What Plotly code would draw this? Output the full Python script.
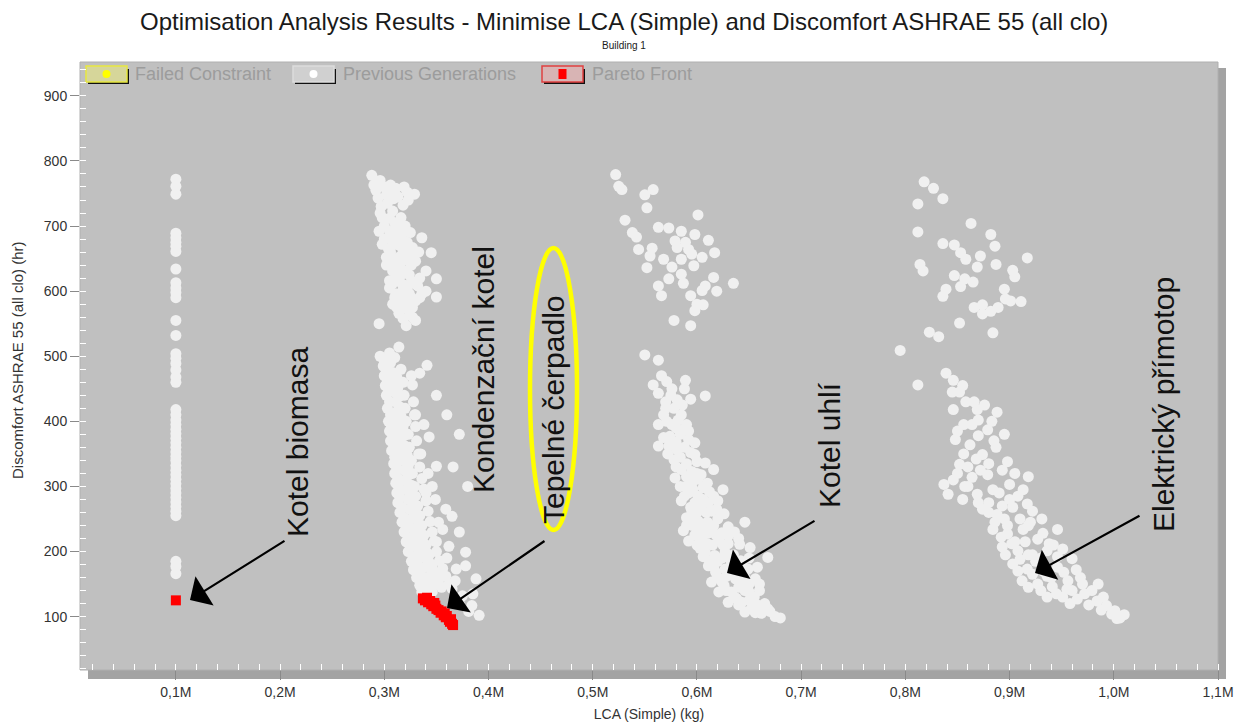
import plotly.graph_objects as go

# ---------------- DATA ----------------
x_ticks = [100000, 200000, 300000, 400000, 500000, 600000, 700000, 800000, 900000, 1000000, 1100000]
x_tick_labels = ["0,1M", "0,2M", "0,3M", "0,4M", "0,5M", "0,6M", "0,7M", "0,8M", "0,9M", "1,0M", "1,1M"]
y_ticks = [100, 200, 300, 400, 500, 600, 700, 800, 900]

# Kotel biomasa column (previous generations)
bio_x = [100000] * 48
bio_y = [772, 761, 749, 689, 682, 675, 669, 661, 634, 613, 605, 598, 590, 555, 532, 504,
         497, 489, 479, 468, 460, 418, 410, 402, 395, 388, 381, 374, 367, 360, 353, 346,
         340, 332, 325, 318, 311, 304, 297, 290, 283, 276, 269, 262, 255, 185, 177, 166]

# Kondenzacni kotel / Tepelne cerpadlo cluster (thousand kg, hr)
kond_pts = [
    (288, 778), (290, 763), (306, 763), (311, 758), (319, 760), (329, 749), (294, 743), (302, 748),
    (318, 732), (308, 723), (298, 713), (316, 713), (295, 692), (305, 692), (336, 682), (298, 672),
    (311, 672), (327, 667), (345, 659), (302, 652), (314, 652), (330, 646), (308, 631), (321, 631),
    (340, 631), (350, 619), (305, 616), (317, 611), (330, 611), (311, 596), (324, 596), (336, 596),
    (350, 591), (314, 581), (327, 575), (314, 566), (327, 560), (295, 550), (321, 547), (330, 555),
    (300, 700), (310, 705), (320, 700), (325, 690), (312, 685), (318, 678), (306, 660), (322, 660),
    (315, 640), (326, 640), (334, 620), (312, 620), (322, 605), (318, 590), (330, 585), (340, 600),
    (305, 605), (308, 640), (333, 660), (300, 680), (313, 745), (323, 740), (297, 730), (315, 570),
    (320, 585),
    (303, 735), (309, 742), (296, 720), (305, 712), (312, 700), (318, 690), (306, 680), (315, 670),
    (322, 675), (304, 665), (318, 660), (310, 648), (320, 648), (328, 655), (302, 640), (312, 632),
    (324, 625), (316, 625), (308, 612), (318, 602), (326, 615), (332, 608), (310, 590), (320, 575),
    (326, 590), (334, 590), (312, 575), (318, 558), (308, 580), (324, 570), (300, 760), (296, 770),
    (307, 750), (322, 752), (292, 755),
    (296, 500), (299, 485), (300, 470), (301, 455), (302, 440), (303, 420), (304, 400), (305, 385),
    (306, 370), (307, 355), (309, 335), (310, 320), (311, 305), (312, 290), (313, 275), (315, 260),
    (317, 245), (319, 230), (321, 215), (323, 200), (326, 185), (328, 172), (331, 160), (334, 148),
    (336, 138), (339, 130),
    (300, 493), (302, 478), (303, 462), (304, 448), (305, 430), (306, 410), (307, 392), (308, 378),
    (309, 362), (310, 345), (312, 328), (313, 312), (314, 298), (315, 283), (317, 268), (319, 252),
    (321, 238), (323, 222), (325, 208), (328, 192), (331, 178), (334, 166), (337, 154), (340, 144),
    (343, 134),
    (305, 505), (306, 490), (308, 475), (309, 460), (310, 445), (311, 430), (312, 415), (313, 400),
    (314, 385), (315, 370), (316, 355), (318, 340), (319, 325), (320, 310), (321, 295), (323, 280),
    (324, 265), (326, 250), (328, 235), (330, 220), (332, 205), (334, 190), (337, 175), (340, 160),
    (343, 148), (346, 138),
    (310, 498), (312, 468), (313, 452), (314, 438), (315, 422), (316, 408), (318, 392), (319, 378),
    (320, 362), (322, 348), (323, 332), (324, 318), (326, 302), (327, 288), (329, 272), (331, 258),
    (333, 242), (335, 228), (337, 214), (340, 200), (342, 186), (345, 172), (348, 160), (351, 150),
    (314, 514), (316, 480), (318, 460), (319, 440), (320, 420), (321, 400), (323, 380), (324, 360),
    (326, 340), (327, 320), (329, 300), (330, 285), (332, 270), (334, 255), (336, 240), (338, 225),
    (340, 210), (343, 195), (346, 180), (349, 168), (352, 155), (355, 145),
    (326, 470), (328, 430), (329, 410), (330, 392), (331, 370), (333, 350), (334, 330), (336, 312),
    (338, 296), (340, 278), (342, 262), (344, 246), (346, 230), (348, 216), (350, 200), (353, 186),
    (356, 174), (359, 162), (362, 150),
    (341, 486), (334, 474), (327, 456), (350, 440), (343, 376), (350, 331), (349, 280), (359, 265),
    (365, 254), (356, 234), (372, 230), (362, 208), (378, 199), (378, 178), (369, 173), (388, 158),
    (365, 143), (375, 132), (384, 117), (391, 102), (381, 108), (330, 410), (338, 395), (335, 350),
    (342, 320), (340, 290), (346, 300), (352, 245), (350, 215), (360, 190), (356, 165), (368, 155),
    (372, 120), (385, 135), (360, 410), (372, 380), (366, 330), (380, 300),
]
kond_x = [p[0] * 1000 for p in kond_pts]
kond_y = [p[1] for p in kond_pts]

# Kotel uhli cluster
uhli_pts = [
    (522, 779), (525, 761), (528, 756), (558, 756), (550, 748), (552, 728), (531, 709), (601, 717),
    (563, 698), (573, 697), (585, 692), (598, 687), (538, 690), (542, 683), (611, 678), (579, 677),
    (589, 675), (544, 664), (557, 666), (581, 667), (592, 664), (617, 659), (555, 654), (595, 657),
    (605, 652), (568, 649), (585, 649), (552, 636), (576, 637), (597, 639), (585, 626), (573, 619),
    (616, 621), (635, 612), (563, 608), (587, 612), (608, 608), (605, 601), (619, 600), (566, 593),
    (594, 593), (600, 580), (606, 579), (598, 570), (578, 555), (594, 547),
    (550, 502), (563, 494), (558, 456), (571, 461), (589, 463), (563, 443), (581, 433), (594, 434),
    (608, 439), (563, 395), (571, 400), (582, 402), (587, 387), (574, 377), (592, 372), (598, 367),
    (563, 362), (573, 362), (581, 356), (598, 349), (578, 341), (608, 336), (585, 326), (595, 323),
    (616, 326), (579, 313), (601, 311), (589, 300), (606, 298), (625, 295), (592, 290), (601, 285),
    (616, 285), (585, 278), (598, 275), (611, 275), (619, 265), (609, 260), (590, 252), (646, 245),
    (601, 247), (587, 232), (601, 232), (614, 234), (624, 229), (592, 216), (605, 219), (621, 219),
    (630, 224), (641, 211), (651, 206), (608, 199), (617, 194), (627, 199), (668, 191), (642, 186),
    (611, 178), (627, 173), (649, 173), (614, 153), (624, 153), (637, 158), (656, 158), (621, 138),
    (633, 138), (646, 140), (630, 122), (643, 122), (652, 112), (662, 105), (675, 100), (646, 107),
    (600, 260), (596, 240), (610, 245), (620, 250), (615, 210), (625, 210), (635, 195), (620, 185),
    (633, 180), (640, 165), (628, 162), (618, 168), (650, 150), (640, 145), (655, 130), (665, 120),
    (638, 128), (660, 140), (603, 205), (595, 263), (580, 390), (590, 395), (585, 410), (600, 320),
    (610, 305), (595, 305), (570, 420), (575, 440), (588, 450),
    (566, 470), (576, 450), (570, 430), (578, 420), (586, 425), (568, 410), (576, 395), (584, 380),
    (592, 385), (568, 375), (580, 368), (588, 360), (594, 352), (572, 350), (584, 345), (590, 335),
    (600, 338), (580, 330), (590, 315), (596, 312), (604, 318), (584, 300), (596, 296), (612, 292),
    (588, 285), (606, 280), (620, 278), (594, 268), (604, 266), (614, 262), (626, 258), (596, 250),
    (606, 238), (616, 240), (630, 238), (590, 240), (598, 225), (610, 228), (618, 226), (636, 230),
    (600, 210), (610, 212), (630, 212), (640, 220), (606, 192), (624, 190), (632, 188), (650, 190),
    (612, 186), (616, 176), (636, 172), (644, 178), (658, 176), (620, 160), (632, 165), (646, 160),
    (626, 148), (644, 150), (660, 150), (628, 140), (650, 138), (636, 130), (650, 125), (658, 118),
    (668, 112), (640, 118), (656, 106), (670, 108), (680, 98),
]
uhli_x = [p[0] * 1000 for p in uhli_pts]
uhli_y = [p[1] for p in uhli_pts]

# Elektricky primotop cluster
elek_pts = [
    (818, 768), (827, 758), (836, 742), (812, 734), (863, 704), (812, 691), (882, 687), (836, 673),
    (847, 671), (886, 669), (917, 651), (853, 659), (858, 649), (872, 654), (869, 637), (887, 641),
    (814, 641), (817, 631), (903, 632), (905, 622), (847, 624), (857, 619), (865, 614), (853, 607),
    (895, 603), (839, 603), (836, 592), (896, 588), (901, 585), (911, 584), (866, 575), (874, 579),
    (874, 565), (882, 569), (889, 575), (852, 551), (884, 536), (795, 509), (823, 537), (832, 530),
    (812, 456),
    (839, 474), (846, 463), (852, 445), (858, 430), (846, 418), (869, 418), (888, 414), (864, 395),
    (879, 387), (848, 372), (862, 364), (874, 349), (887, 360), (898, 338), (852, 334), (864, 314),
    (879, 318), (837, 303), (841, 288), (855, 280), (869, 288), (884, 295), (900, 303), (913, 295),
    (874, 265), (888, 257), (903, 268), (917, 273), (931, 250), (946, 234), (884, 234), (898, 227),
    (913, 234), (927, 219), (893, 207), (908, 201), (922, 195), (936, 201), (951, 204), (960, 189),
    (903, 181), (917, 173), (932, 170), (946, 176), (912, 155), (927, 150), (941, 146), (956, 155),
    (970, 150), (979, 140), (951, 130), (965, 127), (984, 124), (993, 117), (1001, 109), (1010, 103),
    (1003, 97), (936, 130), (920, 245), (895, 250), (905, 215), (880, 275), (925, 185), (940, 160),
    (955, 142), (990, 130), (860, 300), (850, 320), (918, 315), (900, 280), (942, 210),
    (845, 445), (855, 455), (866, 430), (876, 425), (883, 400), (870, 402), (856, 395), (850, 385),
    (870, 378), (885, 370), (895, 380), (856, 350), (868, 342), (880, 335), (893, 325), (905, 320),
    (860, 330), (872, 325), (846, 310), (857, 300), (890, 290), (870, 275), (880, 260), (893, 270),
    (908, 285), (922, 262), (886, 245), (898, 240), (910, 250), (918, 240), (892, 222), (902, 212),
    (915, 215), (932, 228), (938, 212), (896, 195), (910, 188), (918, 195), (930, 190), (946, 192),
    (908, 170), (922, 165), (936, 162), (952, 168), (964, 172), (918, 145), (930, 140), (945, 135),
    (960, 140), (972, 135), (958, 120), (976, 118), (988, 110), (998, 104), (1006, 98), (968, 160),
    (985, 150),
]
elek_x = [p[0] * 1000 for p in elek_pts]
elek_y = [p[1] for p in elek_pts]

# Pareto front
pareto_x = [100000, 337000, 340000, 342000, 344000, 345000, 347000, 349000, 350000, 352000, 354000,
            355000, 357000, 359000, 360000, 362000, 363000, 365000, 366000, 364000, 358000, 348000,
            341000, 339000]
pareto_y = [125, 128, 126, 122, 124, 119, 116, 117, 112, 110, 106, 108, 102, 99, 101, 95, 92, 89, 87,
            96, 105, 121, 129, 125]

# Failed constraint (none in this run)
failed_x = []
failed_y = []

prev_x = bio_x + kond_x + uhli_x + elek_x
prev_y = bio_y + kond_y + uhli_y + elek_y

# ---------------- LAYOUT HELPERS ----------------
W, H = 1247, 728
L, R, T, B = 80, 1218, 62, 670


def px(x):
    return (x - L) / (R - L)


def py(y):
    return (B - y) / (B - T)


FONT = "Liberation Sans, Arial, sans-serif"

fig = go.Figure()
fig.add_trace(go.Scatter(x=failed_x, y=failed_y, mode="markers", name="Failed Constraint",
                         marker=dict(color="#ffff00", size=10), showlegend=False))
fig.add_trace(go.Scatter(x=prev_x, y=prev_y, mode="markers", name="Previous Generations",
                         marker=dict(color="#f0f0f0", size=11, line=dict(width=0)), showlegend=False))
fig.add_trace(go.Scatter(x=pareto_x, y=pareto_y, mode="markers", name="Pareto Front",
                         marker=dict(color="#ff0000", size=10, symbol="square", line=dict(width=0)),
                         showlegend=False))

shapes = []
# shadow + plot background
shapes.append(dict(type="rect", xref="paper", yref="paper", x0=px(L + 8), x1=px(R + 8), y0=py(B + 9), y1=py(T + 6),
                   fillcolor="#a3a3a3", line=dict(width=0), layer="below"))
shapes.append(dict(type="rect", xref="paper", yref="paper", x0=0, x1=1, y0=0, y1=1,
                   fillcolor="#c0c0c0", line=dict(width=1, color="#b0b0b0"), layer="below"))

# custom legend icons
legend_items = [
    (86, 127, "#d6d69a", "#e8e840", "#ffff00", "circle", "Failed Constraint", 133),
    (293, 334, "#d0d0d0", "#dcdcdc", "#ffffff", "circle", "Previous Generations", 341),
    (542, 583, "#d8b4b4", "#e04040", "#ff0000", "square", "Pareto Front", 590),
]
annotations = []
for x0, x1, fill, border, dot, sym, label, tx in legend_items:
    shapes.append(dict(type="rect", xref="paper", yref="paper", x0=px(x0 + 2), x1=px(x1 + 2),
                       y0=py(84), y1=py(69), fillcolor="#101010", line=dict(width=0), layer="below"))
    shapes.append(dict(type="rect", xref="paper", yref="paper", x0=px(x0), x1=px(x1),
                       y0=py(82), y1=py(66), fillcolor=fill, line=dict(width=1.5, color=border), layer="below"))
    cx = (x0 + x1) / 2
    if sym == "circle":
        shapes.append(dict(type="circle", xref="paper", yref="paper", x0=px(cx - 4), x1=px(cx + 4),
                           y0=py(78), y1=py(70), fillcolor=dot, line=dict(width=0), layer="below"))
    else:
        shapes.append(dict(type="rect", xref="paper", yref="paper", x0=px(cx - 4), x1=px(cx + 4),
                           y0=py(79), y1=py(69), fillcolor=dot, line=dict(width=0), layer="below"))
    annotations.append(dict(text=label, xref="paper", yref="paper", x=px(tx), y=py(74),
                            xanchor="left", yanchor="middle", showarrow=False,
                            font=dict(family=FONT, size=18, color="#9c9c9c")))

# yellow ellipse
shapes.append(dict(type="circle", xref="paper", yref="paper", x0=px(530), x1=px(577), y0=py(530), y1=py(248),
                   line=dict(color="#ffff00", width=4.5), fillcolor="rgba(0,0,0,0)", layer="above"))

# title + subtitle
annotations.append(dict(text="Optimisation Analysis Results - Minimise LCA (Simple) and Discomfort ASHRAE 55 (all clo)",
                        xref="paper", yref="paper", x=px(624), y=py(21), xanchor="center", yanchor="middle",
                        showarrow=False, font=dict(family=FONT, size=24, color="#1a1a1a")))
annotations.append(dict(text="Building 1", xref="paper", yref="paper", x=px(624), y=py(45),
                        xanchor="center", yanchor="middle", showarrow=False,
                        font=dict(family=FONT, size=10, color="#1a1a1a")))

# y axis title
annotations.append(dict(text="Discomfort ASHRAE 55 (all clo) (hr)", xref="paper", yref="paper",
                        x=px(17), y=py(360), textangle=-90, xanchor="center", yanchor="middle",
                        showarrow=False, font=dict(family=FONT, size=15, color="#333333")))

# rotated labels
labels = [
    ("Kotel biomasa", 297, 442),
    ("Kondenzační kotel", 483, 370),
    ("Tepelné čerpadlo", 553, 410),
    ("Kotel uhlí", 830, 445),
    ("Elektrický přímotop", 1163, 405),
]
for text, lx, ly in labels:
    annotations.append(dict(text=text, xref="paper", yref="paper", x=px(lx), y=py(ly), textangle=-90,
                            xanchor="center", yanchor="middle", showarrow=False,
                            font=dict(family=FONT, size=30, color="#111111")))

# arrows (head, tail) in pixels
arrows = [
    ((190, 600), (286, 540)),
    ((447, 608), (546, 540)),
    ((727, 573), (816, 520)),
    ((1035, 573), (1141, 515)),
]
for (hx, hy), (tx_, ty_) in arrows:
    annotations.append(dict(text="", xref="paper", yref="paper", x=px(hx), y=py(hy),
                            ax=tx_ - hx, ay=ty_ - hy, showarrow=True, arrowhead=1,
                            arrowsize=2.6, arrowwidth=2.2, arrowcolor="#000000"))

fig.update_layout(
    width=W, height=H,
    margin=dict(l=L, r=W - R, t=T, b=H - B),
    paper_bgcolor="white",
    plot_bgcolor="rgba(0,0,0,0)",
    showlegend=False,
    shapes=shapes,
    annotations=annotations,
    font=dict(family=FONT, color="#333333"),
    xaxis=dict(
        range=[8000, 1100000], tickvals=x_ticks, ticktext=x_tick_labels, automargin=False,
        ticks="outside", ticklen=9, tickcolor="#8a8a8a", tickwidth=1,
        showgrid=False, zeroline=False, showline=False,
        tickfont=dict(family=FONT, size=14, color="#333333"),
        title=dict(text="LCA (Simple) (kg)", font=dict(family=FONT, size=14, color="#333333"), standoff=10),
        minor=dict(ticks="inside", ticklen=6, tickcolor="#ffffff", tickwidth=1, dtick=20000, tick0=0, showgrid=False),
    ),
    yaxis=dict(
        range=[18, 952], tickvals=y_ticks, automargin=False,
        ticks="outside", ticklen=9, tickcolor="#8a8a8a", tickwidth=1,
        showgrid=False, zeroline=False, showline=False,
        tickfont=dict(family=FONT, size=14, color="#333333"),
        minor=dict(ticks="inside", ticklen=6, tickcolor="#ffffff", tickwidth=1, dtick=20, tick0=0, showgrid=False),
    ),
)

fig.write_html("out.html")
